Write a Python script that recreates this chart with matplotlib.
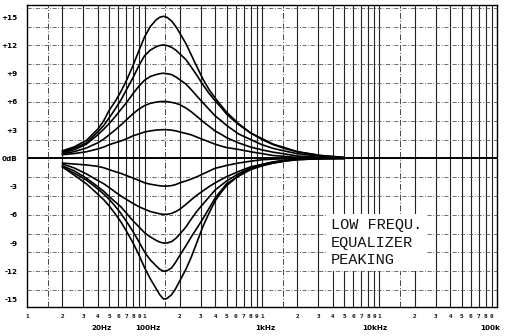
import matplotlib
matplotlib.use("Agg")
import matplotlib.pyplot as plt
from matplotlib.transforms import blended_transform_factory

# ---------------- data ----------------
freq_hz = [20, 25, 32, 40, 45, 50, 56, 63, 71, 80, 90, 100, 112, 125, 135, 145, 155,
           170, 185, 200, 225, 250, 280, 315, 355, 400, 450, 500, 630, 800, 1000,
           1250, 1600, 2000, 3150, 5000]

boost_15 = [0.8, 1.2, 1.9, 3.1, 4.0, 5.1, 6.0, 7.1, 8.4, 9.9, 11.5, 12.9, 14.0, 14.7, 15.0, 15.1, 15.0,
            14.6, 14.0, 13.3, 12.2, 11.0, 9.7, 8.4, 7.3, 6.4, 5.6, 4.9, 3.7, 2.7, 2.1,
            1.5, 1.1, 0.7, 0.3, 0.1]
boost_12 = [0.7, 1.05, 1.65, 2.8, 3.5, 4.3, 5.2, 6.2, 7.4, 8.6, 9.9, 10.9, 11.5, 11.85, 12.0, 12.05, 12.0,
            11.8, 11.5, 11.1, 10.5, 9.7, 8.8, 7.8, 6.9, 6.1, 5.4, 4.7, 3.6, 2.7, 2.0,
            1.45, 1.0, 0.7, 0.3, 0.1]
boost_9 = [0.6, 0.9, 1.5, 2.5, 3.1, 3.7, 4.4, 5.2, 6.0, 6.9, 7.7, 8.3, 8.7, 8.9, 9.0, 9.05, 9.0,
           8.9, 8.65, 8.35, 7.9, 7.3, 6.6, 5.9, 5.2, 4.5, 4.0, 3.5, 2.6, 2.0, 1.45,
           1.05, 0.75, 0.5, 0.2, 0.05]
boost_6 = [0.5, 0.7, 1.1, 1.65, 2.05, 2.5, 3.0, 3.55, 4.15, 4.75, 5.25, 5.6, 5.85, 5.97, 6.03, 6.05, 6.03,
           5.95, 5.85, 5.7, 5.35, 4.95, 4.45, 3.9, 3.4, 2.9, 2.55, 2.2, 1.65, 1.2, 0.9,
           0.65, 0.45, 0.25, 0.1, 0.0]
boost_3 = [0.4, 0.5, 0.7, 1.0, 1.2, 1.45, 1.65, 1.85, 2.1, 2.4, 2.6, 2.8, 2.92, 3.0, 3.03, 3.05, 3.04,
           3.0, 2.92, 2.8, 2.65, 2.5, 2.25, 2.0, 1.75, 1.5, 1.3, 1.15, 0.95, 0.7, 0.5,
           0.3, 0.2, 0.1, 0.05, 0.0]

cut_3 = [-0.5, -0.6, -0.7, -0.85, -1.0, -1.2, -1.4, -1.6, -1.85, -2.1, -2.35, -2.6, -2.75, -2.85, -2.92, -2.95, -2.95,
         -2.9, -2.78, -2.6, -2.4, -2.2, -1.95, -1.65, -1.35, -1.05, -0.9, -0.75, -0.5, -0.3, -0.15,
         -0.08, -0.05, -0.02, 0.0, 0.0]
cut_6 = [-0.6, -1.0, -1.65, -2.35, -2.7, -3.1, -3.55, -4.0, -4.4, -4.8, -5.15, -5.4, -5.65, -5.8, -5.9, -5.95, -5.95,
         -5.85, -5.65, -5.4, -4.9, -4.4, -3.9, -3.45, -3.0, -2.6, -2.25, -1.95, -1.4, -0.9, -0.65,
         -0.4, -0.2, -0.1, -0.03, 0.0]
cut_9 = [-0.8, -1.3, -2.1, -3.0, -3.5, -4.05, -4.6, -5.15, -5.9, -6.65, -7.3, -7.9, -8.35, -8.7, -8.9, -9.0, -9.0,
         -8.85, -8.5, -8.05, -7.3, -6.45, -5.6, -4.85, -4.1, -3.35, -2.85, -2.4, -1.65, -1.0, -0.65,
         -0.37, -0.2, -0.08, -0.02, 0.0]
cut_12 = [-0.9, -1.55, -2.3, -3.25, -3.8, -4.35, -5.05, -5.85, -6.8, -7.8, -8.9, -9.95, -10.8, -11.4, -11.8, -12.0, -11.95,
          -11.65, -11.0, -10.3, -9.3, -8.35, -7.4, -6.4, -5.3, -4.2, -3.4, -2.7, -1.9, -1.2, -0.8,
          -0.5, -0.27, -0.14, -0.03, 0.0]
cut_15 = [-0.9, -1.75, -2.7, -3.8, -4.4, -5.05, -5.85, -6.75, -7.85, -9.0, -10.3, -11.6, -12.8, -13.8, -14.5, -14.95, -14.9,
          -14.5, -13.8, -13.0, -11.8, -10.5, -8.9, -7.2, -5.8, -4.5, -3.6, -2.9, -1.85, -1.05, -0.7,
          -0.5, -0.27, -0.14, -0.03, 0.0]

curves = [boost_15, boost_12, boost_9, boost_6, boost_3,
          cut_3, cut_6, cut_9, cut_12, cut_15]

ytick_db = [15, 12, 9, 6, 3, 0, -3, -6, -9, -12, -15]
ytick_labels = ["+15", "+12", "+9", "+6", "+3", "0dB", "-3", "-6", "-9", "-12", "-15"]

xlabel_freqs = [43, 107, 1060, 9200, 87000]
xlabel_texts = ["20Hz", "100Hz", "1kHz", "10kHz", "100k"]

decades = [10, 100, 1000, 10000]
digits = [1, 2, 3, 4, 5, 6, 7, 8, 9]
dashdot_freqs = [15, 150, 1500, 15000]
hgrid_db = [-14, -12, -10, -8, -6, -4, -2, 2, 4, 6, 8, 10, 12, 14, 16]

title_text = "LOW FREQU.\nEQUALIZER\nPEAKING"

# ---------------- figure ----------------
W, H = 506, 336
fig = plt.figure(figsize=(W / 100, H / 100), dpi=100)
fig.patch.set_facecolor("white")
ax = fig.add_axes([27 / W, 1 - 307 / H, (497 - 27) / W, (307 - 5) / H])
ax.set_xscale("log")
ax.set_xlim(10, 100000)
ax.set_ylim(-15.8, 16.3)

# grid: vertical log lines
for d in decades:
    for k in digits:
        f = d * k
        if 10 < f < 100000:
            ax.axvline(f, color="#222222", lw=0.8, zorder=1)
for f in dashdot_freqs:
    ax.axvline(f, color="#444444", lw=0.7, ls=(0, (6, 2, 1, 2)), zorder=1)
# horizontal dash-dot lines
for v in hgrid_db:
    ax.axhline(v, color="#555555", lw=0.6, ls=(0, (5, 2, 1, 2)), zorder=1)
ax.axhline(0, color="black", lw=1.4, zorder=3)

# curves
for c in curves:
    ax.plot(freq_hz, c, color="black", lw=1.2, zorder=4,
            solid_joinstyle="round", solid_capstyle="round")

# spines
for s in ax.spines.values():
    s.set_color("black")
    s.set_linewidth(1.0)

# y tick labels
ax.set_yticks(ytick_db)
ax.set_yticklabels(ytick_labels, fontsize=5.2, fontweight="bold")
ax.tick_params(axis="y", length=0, pad=7)
ax.set_xticks([])
ax.minorticks_off()
ax.set_xticks([], minor=True)

# x digit row and labels
trans = blended_transform_factory(ax.transData, ax.transAxes)
for d in decades:
    for k in digits:
        f = d * k
        if 10 <= f < 100000:
            ax.text(f, -0.030, str(k), transform=trans, fontsize=3.8,
                    fontweight="bold", ha="center", va="center", color="#222222")
for f, t in zip(xlabel_freqs, xlabel_texts):
    ax.text(f, -0.07, t, transform=trans, fontsize=5.2, fontweight="bold",
            ha="center", va="center", color="black")

# label box
fig.text(331 / W, 1 - 218 / H, title_text, family="Liberation Mono",
         fontsize=11, linespacing=1.33, ha="left", va="top", color="#111111",
         bbox=dict(facecolor="white", edgecolor="none", pad=3), zorder=10)

fig.savefig("out.png", dpi=100, facecolor="white")
